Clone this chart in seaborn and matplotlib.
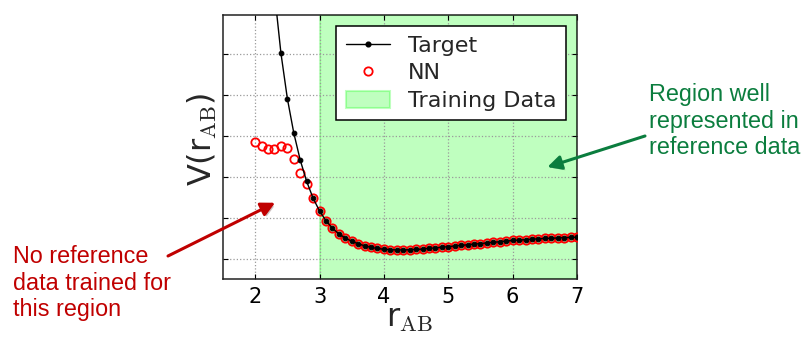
import matplotlib
matplotlib.use("Agg")
import matplotlib.pyplot as plt
import seaborn as sns
import numpy as np
from matplotlib.lines import Line2D
from matplotlib.patches import Patch
import matplotlib.patheffects as pe

# ---------------- data ----------------
r_ab = [2.0, 2.1, 2.2, 2.3, 2.4, 2.5, 2.6, 2.7, 2.8, 2.9,
        3.0, 3.1, 3.2, 3.3, 3.4, 3.5, 3.6, 3.7, 3.8, 3.9,
        4.0, 4.1, 4.2, 4.3, 4.4, 4.5, 4.6, 4.7, 4.8, 4.9,
        5.0, 5.1, 5.2, 5.3, 5.4, 5.5, 5.6, 5.7, 5.8, 5.9,
        6.0, 6.1, 6.2, 6.3, 6.4, 6.5, 6.6, 6.7, 6.8, 6.9, 7.0]

v_target = [13.5, 10.6, 8.3, 6.5, 5.02, 3.91, 3.07, 2.41, 1.89, 1.48,
            1.17, 0.93, 0.75, 0.61, 0.51, 0.43, 0.37, 0.32, 0.28, 0.255,
            0.235, 0.225, 0.22, 0.22, 0.225, 0.23, 0.24, 0.255, 0.27, 0.285,
            0.30, 0.315, 0.33, 0.345, 0.36, 0.375, 0.39, 0.405, 0.42, 0.435,
            0.45, 0.46, 0.47, 0.48, 0.49, 0.50, 0.505, 0.51, 0.52, 0.525, 0.53]

v_nn = [2.85, 2.76, 2.69, 2.67, 2.76, 2.71, 2.44, 2.10, 1.82, 1.48,
        1.17, 0.93, 0.75, 0.61, 0.51, 0.43, 0.37, 0.32, 0.28, 0.255,
        0.235, 0.225, 0.22, 0.22, 0.225, 0.23, 0.24, 0.255, 0.27, 0.285,
        0.30, 0.315, 0.33, 0.345, 0.36, 0.375, 0.39, 0.405, 0.42, 0.435,
        0.45, 0.46, 0.47, 0.48, 0.49, 0.50, 0.505, 0.51, 0.52, 0.525, 0.53]

train_range = [3.0, 7.0]
x_ticks = [2, 3, 4, 5, 6, 7]
y_ticks = [0, 1, 2, 3, 4, 5]
legend_labels = ["Target", "NN", "Training Data"]
note_left = "No reference\ndata trained for\nthis region"
note_right = "Region well\nrepresented in\nreference data"

# ---------------- style ----------------
sns.set_theme(style="white")
plt.rcParams["font.family"] = ["DejaVu Sans"]
plt.rcParams["mathtext.fontset"] = "cm"
plt.rcParams["mathtext.default"] = "regular"

fig = plt.figure(figsize=(8.06, 3.41), dpi=100)
ax = fig.add_axes([223 / 806, 1 - 279 / 341, 354 / 806, 264 / 341])

span_col = (0.0, 1.0, 0.0, 0.25)
ax.axvspan(train_range[0], train_range[1], facecolor=span_col, edgecolor=span_col,
           linewidth=1.5, zorder=1)

sns.lineplot(x=r_ab, y=v_nn, ax=ax, linestyle="", marker="o", markersize=6.0,
             markerfacecolor="none", markeredgecolor="red", markeredgewidth=1.3,
             zorder=3, legend=False)
sns.lineplot(x=r_ab, y=v_target, ax=ax, color="black", linewidth=1.0, marker="o",
             markersize=3.4, markerfacecolor="black", markeredgecolor="black",
             zorder=4, legend=False)

ax.set_xlim(1.5, 7.0)
ax.set_ylim(-0.49, 5.95)
ax.set_xticks(x_ticks)
ax.set_xticklabels([str(t) for t in x_ticks], fontsize=15)
ax.set_yticks(y_ticks)
ax.set_yticklabels([])
ax.tick_params(direction="in", length=3.5, width=0.8, top=True, right=True,
               bottom=True, left=True, pad=6, colors="black")
ax.set_axisbelow("line")
ax.grid(True, linestyle=":", color="#9a9a9a", linewidth=0.9)
for s in ax.spines.values():
    s.set_color("#222222")
    s.set_linewidth(1.1)

ax.set_xlabel(r"r$_{\mathrm{AB}}$", fontsize=23)
ax.xaxis.set_label_coords(0.528, -0.09)
ax.xaxis.label.set_va("top")
ax.set_ylabel(r"V(r$_{\mathrm{AB}}$)", fontsize=23)
ax.yaxis.set_label_coords(-0.01, 0.53)

handles = [
    Line2D([], [], color="black", linewidth=1.0, marker="o", markersize=3.4),
    Line2D([], [], linestyle="", marker="o", markersize=6.0, markerfacecolor="none",
           markeredgecolor="red", markeredgewidth=1.3),
    Patch(facecolor=span_col, edgecolor=span_col, linewidth=1.5),
]
leg = ax.legend(handles, legend_labels, loc="upper right", fontsize=16,
                fancybox=False, framealpha=1, edgecolor="black", numpoints=1,
                handlelength=2.0, handleheight=0.8, labelspacing=0.33,
                borderpad=0.42, handletextpad=0.8, borderaxespad=0.5)
leg.get_frame().set_linewidth(1.1)

red = "#c00000"
green = "#0b7d3e"
fig.text(13 / 806, 1 - 245 / 341, note_left, color=red, fontsize=16.8,
         family=["Liberation Sans"], ha="left", va="top", linespacing=1.2)
fig.text(649 / 806, 1 - 83 / 341, note_right, color=green, fontsize=16.8,
         family=["Liberation Sans"], ha="left", va="top", linespacing=1.2)

shadow = [pe.SimplePatchShadow(offset=(1.5, -1.5), alpha=0.25), pe.Normal()]
ax.annotate("", xy=(2.31, 1.37), xycoords="data",
            xytext=(168 / 806, 1 - 256 / 341), textcoords="figure fraction",
            arrowprops=dict(arrowstyle="-|>,head_length=0.55,head_width=0.28",
                            color=red, lw=2.2, mutation_scale=15,
                            shrinkA=0, shrinkB=0, path_effects=shadow),
            annotation_clip=False)
ax.annotate("", xy=(6.54, 2.24), xycoords="data",
            xytext=(645 / 806, 1 - 136 / 341), textcoords="figure fraction",
            arrowprops=dict(arrowstyle="-|>,head_length=0.55,head_width=0.28",
                            color=green, lw=2.2, mutation_scale=15,
                            shrinkA=0, shrinkB=0, path_effects=shadow),
            annotation_clip=False)

fig.savefig("out.png", dpi=100)
